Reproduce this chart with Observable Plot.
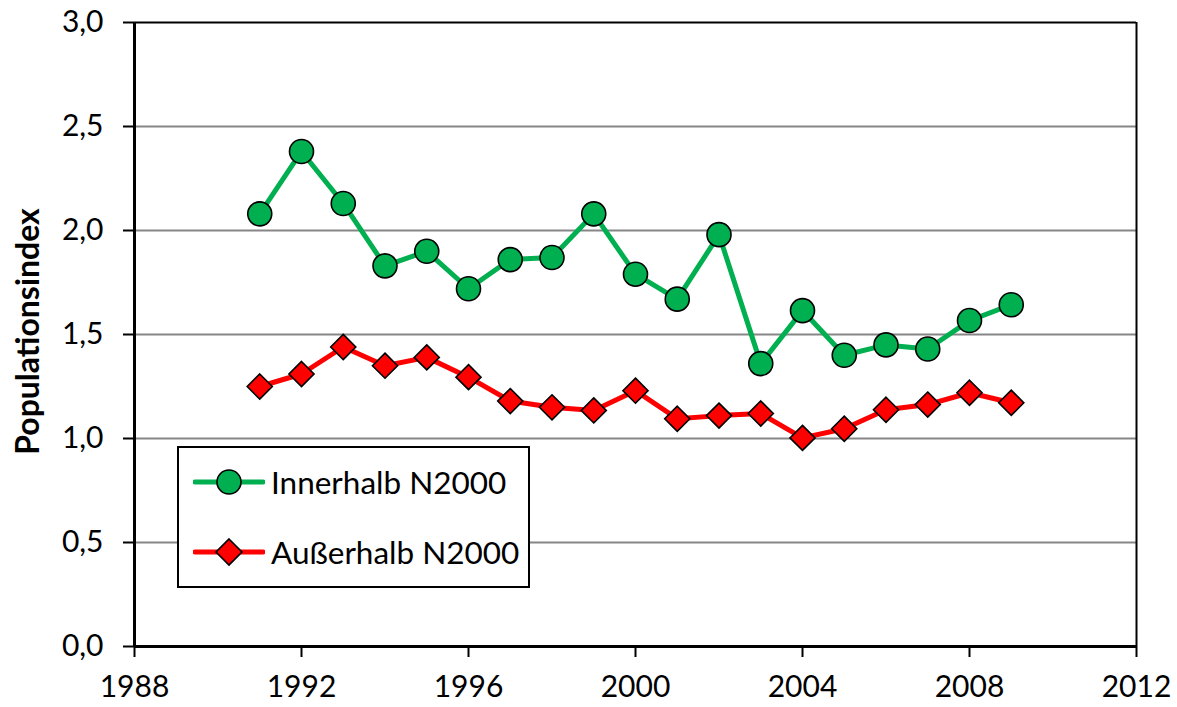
<!DOCTYPE html>
<html>
<head>
<meta charset="utf-8">
<script src="https://cdn.jsdelivr.net/npm/d3@7"></script>
<script src="https://cdn.jsdelivr.net/npm/@observablehq/plot@0.6"></script>
<style>
  html, body { margin: 0; padding: 0; background: #fff; }
  #wrap { position: relative; width: 1177px; height: 707px; font-family: Lato, "Open Sans", sans-serif; }
  #legend { position: absolute; left: 177px; top: 446px; width: 349px; height: 138px; border: 2px solid #000; background: #fff; box-sizing: content-box; }
  .row { position: absolute; left: 0; height: 40px; display: flex; align-items: center; }
  .row svg { margin-left: 14px; }
  .row span { font-size: 31.5px; margin-left: 6px; color: #000; white-space: nowrap; }
</style>
</head>
<body>
<div id="wrap"></div>
<script>
const years = [1991,1992,1993,1994,1995,1996,1997,1998,1999,2000,2001,2002,2003,2004,2005,2006,2007,2008,2009];
const innerhalb = [2.08,2.38,2.13,1.83,1.90,1.72,1.86,1.87,2.08,1.79,1.67,1.98,1.36,1.615,1.40,1.45,1.43,1.567,1.643];
const ausserhalb = [1.25,1.31,1.44,1.35,1.39,1.295,1.18,1.15,1.135,1.23,1.095,1.11,1.12,1.003,1.047,1.138,1.163,1.22,1.172];
const xTicks = [1988,1992,1996,2000,2004,2008,2012];
const yTicks = [0,0.5,1.0,1.5,2.0,2.5,3.0];
const seriesNames = ["Innerhalb N2000","Außerhalb N2000"];
const yLabel = "Populationsindex";

const green = "#00B050", red = "#FF0000";
const dataIn = years.map((y,i)=>({year:y, v:innerhalb[i]}));
const dataOut = years.map((y,i)=>({year:y, v:ausserhalb[i]}));

const chart = Plot.plot({
  width: 1177, height: 707,
  marginLeft: 134, marginRight: 41, marginTop: 22, marginBottom: 61,
  style: {fontFamily: "Lato, 'Open Sans', sans-serif", fontSize: "30px", color: "#000", background: "#fff", overflow: "visible"},
  x: {domain: [1988, 2012]},
  y: {domain: [0, 3]},
  marks: [
    Plot.gridY(yTicks.filter(v => v > 0 && v < 3), {stroke: "#868686", strokeOpacity: 1, strokeWidth: 2}),
    Plot.ruleY([3], {stroke: "#000", strokeWidth: 2}),
    Plot.ruleX([2012], {stroke: "#000", strokeWidth: 2}),
    Plot.axisY({ticks: yTicks, tickSize: 11, tickPadding: 20, strokeWidth: 2, tickFormat: d => d.toFixed(1).replace(".", ","), label: null, fontSize: 30}),
    Plot.axisX({ticks: xTicks, tickSize: 11, tickPadding: 18, strokeWidth: 2, tickFormat: d => String(d), label: null, fontSize: 30}),
    Plot.ruleX([1988], {stroke: "#000", strokeWidth: 3}),
    Plot.ruleY([0], {stroke: "#000", strokeWidth: 3}),
    Plot.text([yLabel], {frameAnchor: "left", textAnchor: "middle", lineAnchor: "middle", rotate: -90, dx: -106, dy: -3, fontWeight: "bold", fontSize: 32, fill: "#000"}),
    Plot.line(dataIn, {x: "year", y: "v", stroke: green, strokeWidth: 5}),
    Plot.line(dataOut, {x: "year", y: "v", stroke: red, strokeWidth: 5}),
    Plot.dot(dataIn, {x: "year", y: "v", r: 12, fill: green, stroke: "#000", strokeWidth: 1.6, symbol: "circle"}),
    Plot.dot(dataOut, {x: "year", y: "v", r: 11.3, fill: red, stroke: "#000", strokeWidth: 1.6, symbol: "diamond2"})
  ]
});
const wrap = document.getElementById("wrap");
wrap.appendChild(chart);

const legend = document.createElement("div");
legend.id = "legend";
const entries = [
  {name: seriesNames[0], color: green, shape: "circle", top: 14},
  {name: seriesNames[1], color: red, shape: "diamond", top: 84}
];
for (const e of entries) {
  const row = document.createElement("div");
  row.className = "row";
  row.style.top = e.top + "px";
  const marker = e.shape === "circle"
    ? `<circle cx="36" cy="20" r="12" fill="${e.color}" stroke="#000" stroke-width="1.6"/>`
    : `<path d="M36,7 L49,20 L36,33 L23,20 Z" fill="${e.color}" stroke="#000" stroke-width="1.6"/>`;
  row.innerHTML = `<svg width="72" height="40"><line x1="2" x2="70" y1="20" y2="20" stroke="${e.color}" stroke-width="5" stroke-linecap="round"/>${marker}</svg><span>${e.name}</span>`;
  legend.appendChild(row);
}
wrap.appendChild(legend);
</script>
</body>
</html>
